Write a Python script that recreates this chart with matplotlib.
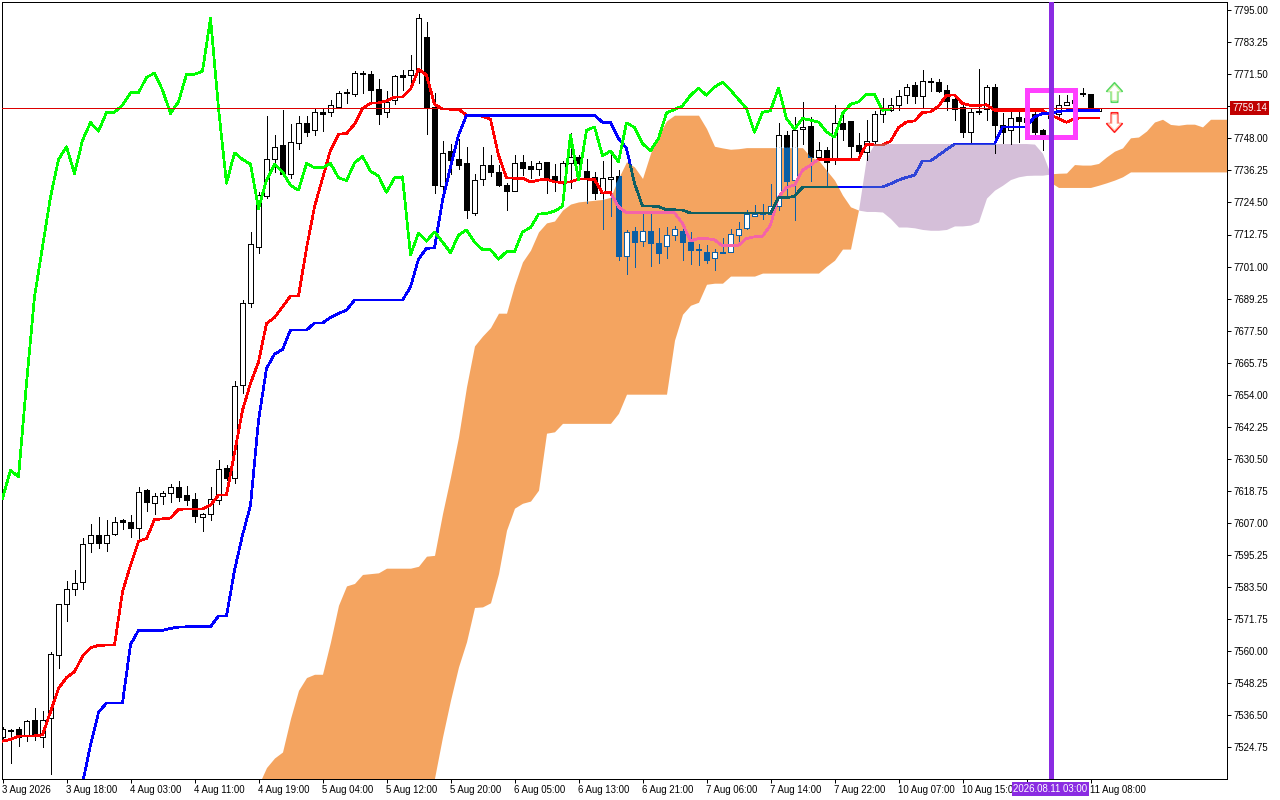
import numpy as np
import matplotlib
matplotlib.use("Agg")
import matplotlib.pyplot as plt
from matplotlib.path import Path
from matplotlib.patches import Rectangle

#### Chart data (prices) ####

opens = [7528.5,7531.2,7531.4,7528.8,7534.7,7528.5,7535.3,7558.4,7577.1,7582.9,7585.4,7599.8,7602.7,7599.8,7603.0,7608.0,7607.5,7605.3,7618.9,7614.3,7617.0,7617.8,7620.0,7617.2,7615.9,7609.3,7610.1,7615.4,7627.0,7623.5,
         7657.6,7687.7,7708.2,7726.9,7740.3,7745.4,7735.0,7746.3,7753.8,7750.9,7757.6,7757.5,7759.5,7764.9,7764.3,7772.0,7771.5,7766.0,7757.5,7761.9,7771.1,7771.3,7772.7,7785.1,7759.4,7730.7,7743.2,7740.4,7738.9,7720.7,
         7733.1,7738.2,7735.6,7730.8,7728.7,7739.3,7737.8,7736.9,7739.3,7734.1,7732.4,7738.8,7741.0,7736.0,7733.7,7728.0,7733.1,7734.1,7704.9,7713.9,7710.5,7713.9,7709.8,7708.7,7712.4,7714.2,7710.0,7707.4,7706.5,7704.0,
         7705.9,7706.4,7712.6,7715.0,7719.6,7720.4,7720.4,7723.1,7749.2,7732.7,7751.3,7752.5,7741.2,7743.9,7740.5,7753.8,7754.3,7745.5,7743.0,7747.0,7757.1,7758.3,7760.1,7763.9,7767.4,7763.7,7769.0,7768.5,7765.7,7762.6,
         7759.4,7750.4,7758.2,7758.6,7766.9,7752.8,7750.9,7755.8,7753.9,7756.8,7751.0,7755.4,7756.8,7760.4,7762.0,7764.6,7764.2,7758.2]
highs = [7532.1,7531.4,7532.2,7534.7,7539.3,7538.0,7559.5,7577.4,7585.6,7589.7,7601.3,7606.5,7609.1,7608.0,7609.1,7608.5,7609.8,7620.0,7619.6,7617.8,7618.7,7621.2,7622.4,7620.4,7618.1,7610.8,7620.0,7630.0,7628.2,7659.1,
         7688.7,7713.5,7728.4,7756.1,7749.2,7758.3,7753.2,7756.1,7756.1,7758.7,7758.6,7762.0,7765.3,7766.0,7772.6,7772.6,7772.6,7769.6,7765.3,7771.1,7773.0,7778.5,7793.5,7790.5,7764.5,7747.0,7746.1,7747.6,7744.8,7734.9,
         7744.8,7741.8,7738.3,7731.7,7741.8,7741.8,7739.7,7739.6,7739.3,7738.5,7739.7,7749.9,7741.8,7740.6,7735.7,7739.6,7742.5,7736.3,7714.3,7715.5,7721.0,7721.4,7715.1,7715.5,7715.8,7716.2,7713.7,7709.4,7708.8,7707.3,
         7711.3,7714.6,7717.4,7721.9,7723.5,7724.1,7731.2,7753.5,7750.6,7755.7,7761.4,7755.9,7746.5,7744.7,7760.2,7757.7,7754.3,7749.8,7754.7,7757.9,7762.7,7762.7,7765.9,7767.9,7768.5,7773.0,7770.3,7769.6,7767.6,7764.2,
         7760.8,7759.3,7773.4,7767.5,7767.9,7757.2,7757.7,7757.7,7757.6,7758.3,7751.3,7759.8,7763.8,7763.8,7763.1,7766.5,7764.2,7759.14]
lows = [7527.3,7519.0,7525.2,7527.1,7527.3,7524.9,7514.8,7553.8,7571.1,7580.5,7582.7,7596.4,7597.8,7596.7,7602.7,7604.8,7601.9,7601.6,7611.4,7610.2,7613.8,7614.6,7615.1,7613.5,7607.4,7604.0,7608.0,7613.8,7622.7,7621.7,
        7654.7,7686.2,7705.8,7726.2,7735.7,7735.1,7733.5,7744.1,7748.8,7749.3,7750.7,7756.2,7759.2,7761.0,7763.6,7764.7,7761.0,7753.2,7755.9,7760.6,7765.7,7768.6,7768.4,7749.5,7728.0,7725.9,7735.1,7736.8,7718.8,7719.9,
        7730.8,7734.1,7730.5,7721.7,7728.6,7734.5,7733.3,7734.5,7728.0,7728.6,7726.5,7729.7,7732.7,7724.3,7725.8,7714.6,7719.6,7703.3,7698.4,7700.9,7708.6,7701.2,7702.3,7704.2,7710.7,7703.3,7701.9,7701.5,7702.3,7699.7,
        7705.8,7706.2,7710.3,7714.7,7719.6,7718.6,7720.4,7721.7,7726.3,7718.0,7745.9,7732.3,7740.3,7730.0,7738.5,7747.3,7740.3,7741.8,7740.0,7745.9,7754.0,7758.1,7758.3,7760.8,7761.0,7759.5,7765.4,7764.9,7758.3,7754.9,
        7748.6,7746.5,7756.9,7754.7,7742.5,7746.2,7746.1,7746.5,7749.5,7749.5,7743.7,7753.9,7755.9,7760.2,7759.1,7763.5,7758.1,7758.2]
closes = [7531.3,7530.8,7528.5,7534.2,7529.1,7534.9,7559.1,7577.4,7582.9,7585.1,7599.4,7602.7,7599.7,7602.7,7607.5,7607.5,7605.3,7618.5,7614.7,7617.0,7617.8,7620.0,7616.5,7615.3,7609.6,7610.1,7615.6,7626.6,7623.5,7657.2,
          7687.8,7709.1,7727.4,7740.3,7745.0,7735.1,7746.8,7753.8,7750.4,7757.5,7757.0,7760.1,7764.8,7764.5,7771.8,7771.5,7765.8,7757.0,7761.5,7770.7,7770.5,7773.0,7792.0,7759.5,7730.9,7742.8,7740.0,7738.2,7721.8,7732.6,
          7738.4,7735.7,7730.8,7728.7,7738.8,7737.1,7736.8,7738.8,7733.1,7732.2,7738.8,7741.2,7738.8,7733.8,7728.0,7733.3,7733.9,7704.9,7713.5,7710.0,7713.9,7709.7,7706.0,7712.4,7714.6,7710.0,7707.1,7706.9,7703.3,7706.2,
          7706.3,7712.8,7714.6,7720.1,7720.4,7720.8,7723.1,7749.4,7732.4,7751.0,7752.2,7741.2,7743.6,7739.2,7753.8,7751.4,7745.2,7743.3,7747.2,7757.1,7758.9,7760.1,7763.7,7767.0,7763.7,7768.9,7768.5,7765.4,7761.7,7758.9,
          7750.2,7757.5,7757.7,7766.9,7752.8,7750.4,7755.3,7754.3,7755.4,7750.3,7749.6,7757.6,7760.4,7761.5,7760.9,7764.1,7758.3,7759.14]

kijun_red = [7527.0,7527.6,7528.8,7528.9,7528.9,7529.3,7537.7,7546.3,7550.3,7552.4,7558.1,7561.2,7562.1,7562.2,7562.2,7581.7,7591.5,7600.3,7601.3,7608.2,7608.5,7608.8,7612.0,7612.1,7612.1,7612.1,7613.5,7617.2,7617.3,7632.6,
             7648.3,7658.2,7666.0,7680.1,7682.3,7686.2,7690.2,7690.2,7707.7,7722.9,7733.3,7743.7,7749.5,7749.8,7753.2,7758.9,7760.9,7761.0,7761.7,7763.1,7763.2,7766.0,7773.4,7771.2,7760.5,7758.8,7758.7,7758.7,7756.5,7756.4,
             7756.1,7755.0,7741.8,7733.5,7733.4,7733.4,7732.0,7732.7,7733.1,7732.0,7731.9,7732.0,7733.1,7733.1,7732.9,7728.0,7728.1,7722.9,7720.7,7720.7,7720.7,7720.7,7720.7,7720.7,7720.7,7716.8,7710.4,7711.3,7711.3,7710.8,
             7708.6,7708.6,7708.8,7711.3,7711.9,7712.1,7716.2,7726.5,7730.0,7730.9,7736.3,7738.2,7740.3,7740.3,7740.3,7740.3,7740.3,7740.3,7745.9,7745.6,7745.6,7746.9,7752.0,7754.0,7754.4,7757.5,7757.7,7759.8,7763.8,7763.9,
             7760.8,7760.1,7760.1,7760.3,7758.3,7758.2,7758.2,7758.2,7758.2,7758.2,7758.2,7756.5,7755.3,7753.9,7755.3,7755.5,7755.5,7755.5]

blue_start = 10
tenkan_blue = [7511.5,7525.5,7537.5,7541.0,7541.0,7541.0,7562.4,7567.6,7567.6,7567.6,7567.6,7568.3,7568.8,7568.9,7568.9,7568.9,7568.9,7572.9,7572.9,7589.6,
               7602.5,7613.5,7644.6,7663.6,7668.9,7670.6,7677.7,7677.7,7677.7,7680.3,7680.3,7682.3,7683.8,7685.0,7688.7,7688.7,7688.7,7688.7,7688.7,7688.7,
               7688.7,7693.5,7703.7,7707.7,7707.8,7725.3,7737.4,7749.2,7756.5,7756.5,7756.5,7756.5,7756.5,7756.5,7756.5,7756.5,7756.5,7756.5,7756.5,7756.5,
               7756.5,7756.5,7756.5,7756.5,7756.5,7753.9,7753.9,7748.0,7744.3,7731.5,7723.2,7723.2,7723.0,7721.8,7721.8,7721.7,7720.6,7720.6,7720.6,7720.6,
               7720.6,7720.6,7720.6,7720.6,7720.6,7720.6,7720.6,7726.2,7726.2,7726.8,7730.1,7730.2,7730.2,7730.2,7730.2,7730.2,7730.2,7730.2,7730.2,7730.2,
               7730.2,7731.3,7732.7,7733.7,7734.5,7739.7,7739.7,7741.8,7743.9,7745.9,7745.9,7745.9,7745.9,7745.9,7745.9,7752.2,7752.2,7752.2,7752.2,7755.9,
               7757.1,7757.2,7757.9,7758.1,7758.1,7758.1,7758.1,7758.1]

chikou_green = [7616.0,7626.3,7623.9,7658.2,7689.9,7708.2,7726.5,7740.3,7744.9,7735.1,7747.3,7753.8,7750.6,7757.5,7757.6,7760.2,7764.7,7764.7,7770.4,7771.9,7765.7,7757.1,7761.4,7771.5,7771.5,7772.6,7792.1,7759.1,7731.5,7742.7,
                7740.3,7738.5,7722.3,7732.7,7738.5,7735.7,7730.8,7729.0,7738.8,7737.2,7737.2,7738.8,7733.6,7732.5,7739.0,7741.4,7736.0,7734.2,7728.2,7733.5,7733.9,7705.2,7713.3,7710.3,7713.7,7710.0,7706.1,7712.5,7714.4,7710.0,
                7707.2,7707.2,7703.7,7706.4,7706.4,7713.7,7715.3,7720.2,7720.5,7721.3,7723.1,7749.2,7732.7,7751.0,7752.2,7741.6,7743.4,7739.4,7753.7,7752.0,7746.1,7743.4,7748.0,7757.3,7758.6,7759.9,7763.8,7766.4,7763.8,7766.8,
                7768.6,7765.7,7762.3,7758.9,7750.2,7757.5,7758.2,7766.5,7755.3,7751.4,7755.3,7754.7,7754.0,7750.4,7748.5,7757.1,7760.5,7761.4,7764.2,7764.2,7758.3,7758.8]

cloud1_start = 32
cloud1_upper = [7510.8,7517.3,7520.8,7523.0,7535.3,7545.6,7550.3,7551.5,7551.5,7563.4,7576.8,7583.9,7584.8,7588.1,7588.4,7588.7,7590.4,7590.4,7590.4,7590.4,
                7591.1,7594.8,7595.1,7610.4,7623.9,7638.5,7656.9,7671.9,7675.5,7678.6,7683.9,7683.9,7694.2,7702.7,7707.0,7713.7,7717.0,7717.7,7721.7,7723.9,
                7724.7,7725.0,7725.3,7725.6,7726.4,7733.4,7739.4,7737.5,7733.3,7742.5,7749.2,7754.4,7756.5,7756.5,7756.5,7756.5,7751.6,7745.1,7744.5,7744.0,
                7744.2,7744.6,7744.6,7744.6,7744.6,7744.6,7744.6,7744.6,7744.6,7741.2,7740.0,7736.3,7732.7,7727.2,7722.9,7721.7]
cloud1_lower = [7509.0,7509.0,7509.0,7509.0,7509.0,7509.0,7509.0,7509.0,7509.0,7509.0,7509.0,7509.0,7509.0,7509.0,7509.0,7509.0,7509.0,7509.0,7509.0,7509.0,
                7509.0,7509.0,7513.4,7528.5,7542.0,7554.2,7563.4,7576.0,7576.2,7577.7,7588.4,7604.3,7612.4,7614.2,7615.0,7619.0,7639.9,7640.4,7643.5,7643.5,
                7643.5,7643.5,7643.5,7643.5,7643.5,7647.2,7654.2,7654.2,7654.2,7654.2,7654.2,7654.2,7674.0,7683.5,7686.8,7687.9,7694.5,7694.9,7694.9,7697.5,
                7697.5,7697.5,7697.5,7698.6,7698.6,7698.6,7698.6,7698.6,7698.6,7698.6,7698.6,7701.1,7703.3,7707.4,7707.4,7721.7]

cloud2_start = 107
cloud2_upper = [7721.7,7741.1,7746.1,7746.1,7746.1,7746.1,7746.1,7746.1,7746.1,7746.1,7746.1,7746.1,7746.1,7746.1,7746.1,7746.1,7746.1,7746.1,7746.1,7746.1,7746.1,7746.1,7745.9,7742.5,7734.9]
cloud2_lower = [7721.7,7721.2,7721.2,7721.0,7718.6,7715.5,7715.5,7715.2,7714.6,7714.3,7714.3,7714.6,7715.9,7715.9,7716.2,7717.4,7726.1,7729.0,7730.8,7732.9,7733.9,7734.4,7734.5,7734.5,7734.9]

cloud3_start = 131
cloud3_upper = [7735.0,7735.2,7735.3,7738.4,7738.2,7738.2,7738.8,7741.2,7743.3,7744.5,7748.2,7748.5,7750.7,7754.0,7755.0,7753.1,7752.8,7753.2,7753.2,7752.2,7755.0,7755.0,7755.0]
cloud3_lower = [7731.9,7730.0,7730.0,7730.0,7730.0,7730.0,7730.8,7731.7,7732.7,7733.9,7735.7,7735.7,7735.7,7735.7,7735.7,7735.7,7735.7,7735.7,7735.7,7735.7,7735.7,7735.7,7735.7]

x_tick_bars = [0,8,16,24,32,40,48,56,64,72,80,88,96,104,112,120,128,136]
# the tick under the time tag has no readable label
x_tick_labels = ["3 Aug 2026","3 Aug 18:00","4 Aug 03:00","4 Aug 11:00","4 Aug 19:00","5 Aug 04:00","5 Aug 12:00","5 Aug 20:00","6 Aug 05:00","6 Aug 13:00",
                 "6 Aug 21:00","7 Aug 06:00","7 Aug 14:00","7 Aug 22:00","10 Aug 07:00","10 Aug 15:00","","11 Aug 08:00"]
y_ticks = [7795.00,7783.25,7771.50,7759.75,7748.00,7736.25,7724.50,7712.75,7701.00,7689.25,7677.50,7665.75,7654.00,7642.25,7630.50,7618.75,7607.00,7595.25,7583.50,7571.75,7560.00,7548.25,7536.50,7524.75]
y_hidden_tick = 7759.75

last_price = 7759.14
event_bar = 131
event_label = "2026.08.11 03:00"
box_bars = (128, 134)
box_prices = (7748.6, 7765.8)
arrow_bar = 138.9
arrow_up_price = 7764.9
arrow_down_price = 7754.0

#### Settings ####

FONT = "Liberation Sans"
FS = 6.9
PX = 0.72    # one pixel in points at dpi 100

ORANGE = "#F4A460"
THISTLE = "#D5BFD9"
IN_ORANGE = {"k": "#0B5FA5", "r": "#F464A8", "b": "#0F5F63"}
IN_THISTLE = {"r": "#D44A40", "b": "#2F45D8"}

#######################################

plt.rcParams["font.family"] = FONT

fig = plt.figure(figsize=(12.8, 8), dpi=100, facecolor="white")
ax = fig.add_axes([2.0 / 1280, 1 - 779.0 / 800, 1225 / 1280, 777 / 800])
ax.set_xlim(-0.5 / 8, 1224.5 / 8)
ax.set_ylim(7513.1, 7798.0)

bars = np.arange(len(closes))
opens_a, closes_a = np.array(opens), np.array(closes)
body_low = np.minimum(opens_a, closes_a)
body_high = np.maximum(opens_a, closes_a)
is_down = closes_a < opens_a


def draw_candles(ink, z, clip=None):
    wicks = ax.vlines(bars, lows, highs, colors=ink, lw=PX, zorder=z, antialiased=False)
    fills = [ink if d else "white" for d in is_down]
    rects = ax.bar(bars, body_high - body_low, bottom=body_low, width=0.56, color=fills,
                   edgecolor=ink, linewidth=PX, zorder=z + 0.1, antialiased=False)
    if clip is not None:
        wicks.set_clip_path(clip, ax.transData)
        for r in rects:
            r.set_clip_path(clip, ax.transData)


def draw_line(start, values, colour, z, clip=None):
    line, = ax.plot(np.arange(len(values)) + start, values, color=colour, lw=1.7 * PX, zorder=z,
                    antialiased=False, solid_joinstyle="round")
    if clip is not None:
        line.set_clip_path(clip, ax.transData)


def draw_cloud(start, upper, lower, colour):
    x = np.arange(len(upper)) + start
    poly = ax.fill_between(x, lower, upper, color=colour, lw=0, zorder=1, antialiased=False)
    return poly.get_paths()[0]


orange_a = draw_cloud(cloud1_start, cloud1_upper, cloud1_lower, ORANGE)
thistle = draw_cloud(cloud2_start, cloud2_upper, cloud2_lower, THISTLE)
orange_b = draw_cloud(cloud3_start, cloud3_upper, cloud3_lower, ORANGE)

draw_candles("black", 2)
draw_line(0, kijun_red, "#FF0000", 3)
draw_line(blue_start, tenkan_blue, "#0000FF", 3.1)

# the cloud tints whatever passes through it
draw_candles(IN_ORANGE["k"], 4, clip=orange_a)
draw_line(0, kijun_red, IN_ORANGE["r"], 5, clip=orange_a)
draw_line(blue_start, tenkan_blue, IN_ORANGE["b"], 5.1, clip=orange_a)
draw_line(0, kijun_red, IN_THISTLE["r"], 5, clip=thistle)
draw_line(blue_start, tenkan_blue, IN_THISTLE["b"], 5.1, clip=thistle)

draw_line(0, chikou_green, "#00FF00", 6)

ax.axhline(last_price, color="#DC0000", lw=PX, zorder=7, antialiased=False)

ax.add_patch(Rectangle((box_bars[0], box_prices[0]), box_bars[1] - box_bars[0], box_prices[1] - box_prices[0],
                       fill=False, edgecolor="#FF40FF", lw=5 * PX, zorder=8, joinstyle="miter"))
ax.axvline(event_bar, color="#8A2BE2", lw=5 * PX, zorder=9)

# arrows are markers, so they stay the same pixel size
arrow_shape = np.array([(0, 1), (0.8, 0.12), (0.33, 0.12), (0.33, -1), (-0.33, -1), (-0.33, 0.12), (-0.8, 0.12), (0, 1)])
up_marker = Path(arrow_shape, closed=True)
down_marker = Path(arrow_shape * [1, -1], closed=True)
ax.plot([arrow_bar], [arrow_up_price], marker=up_marker, ms=14, mfc="white", mec="#55D860", mew=1.2, ls="none", zorder=10)
ax.plot([arrow_bar], [arrow_up_price], marker=up_marker, ms=11.5, mfc="white", mec="#C9EFA0", mew=0.7, ls="none", zorder=10)
ax.plot([arrow_bar], [arrow_down_price], marker=down_marker, ms=14, mfc="white", mec="#FF2020", mew=1.2, ls="none", zorder=10)
ax.plot([arrow_bar], [arrow_down_price], marker=down_marker, ms=11.5, mfc="white", mec="#FFB8A0", mew=0.7, ls="none", zorder=10)

for s in ax.spines.values():
    s.set_linewidth(PX)
    s.set_color("black")

ax.set_xticks(x_tick_bars)
ax.set_xticklabels(x_tick_labels, ha="left", fontsize=FS)
ax.set_yticks(y_ticks)
ax.set_yticklabels(["" if v == y_hidden_tick else "%.2f" % v for v in y_ticks], fontsize=FS)
ax.yaxis.tick_right()
ax.tick_params(axis="x", length=3, width=PX, pad=1.5, color="black")
ax.tick_params(axis="y", length=3, width=PX, pad=1.5, color="black")

# current price and crosshair time tags on top of the axis labels
ax.text(1 + 22.5 / 1225, last_price, "%.2f" % last_price, transform=ax.get_yaxis_transform(), ha="center", va="center",
        fontsize=FS, color="white", zorder=20, clip_on=False,
        bbox=dict(boxstyle="square,pad=0.2", fc="#C00000", ec="none"))
ax.text(event_bar, -0.0125, event_label, transform=ax.get_xaxis_transform(), ha="center", va="center",
        fontsize=FS, color="white", zorder=20, clip_on=False,
        bbox=dict(boxstyle="square,pad=0.2", fc="#8A2BE2", ec="none"))

fig.savefig("out.png", dpi=100)
